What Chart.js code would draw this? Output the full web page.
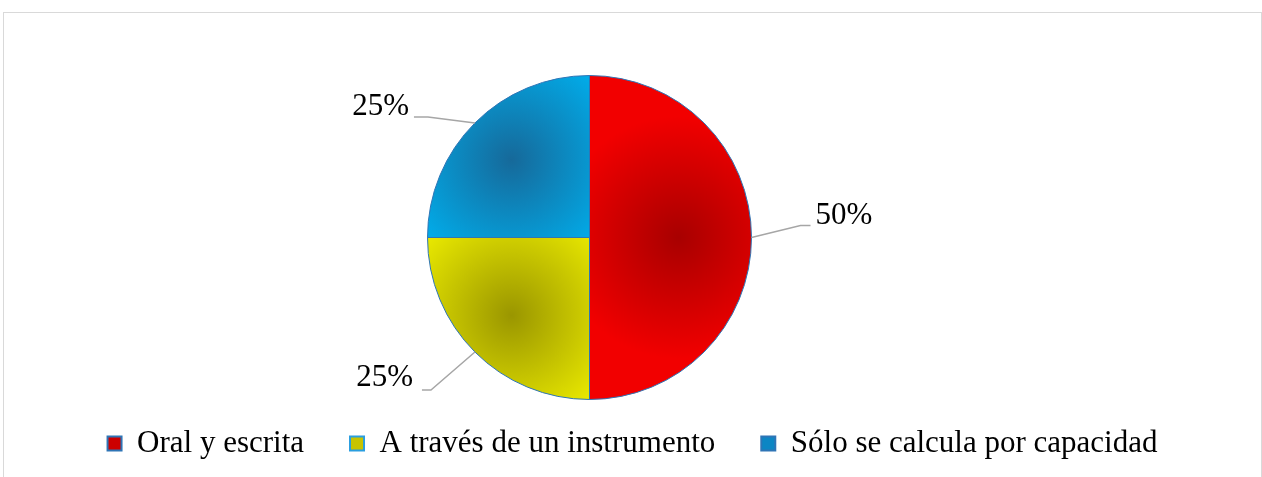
<!DOCTYPE html>
<html>
<head>
<meta charset="utf-8">
<script src="https://cdn.jsdelivr.net/npm/chart.js@4.4.1/dist/chart.umd.min.js"></script>
<style>
  html, body { margin: 0; padding: 0; background: #fff; }
  #wrap {
    position: absolute; left: 3px; top: 12px; width: 1259px; height: 470px;
    border: 1px solid #d9d9d9; border-bottom: none; box-sizing: border-box;
  }
  #chart { position: absolute; left: 0; top: 0; }
</style>
</head>
<body>
<div id="wrap"><canvas id="chart" width="1257" height="465"></canvas></div>
<script>
// data
const labels = ['Oral y escrita', 'A través de un instrumento', 'Sólo se calcula por capacidad'];
const values = [50, 25, 25];
const pctLabels = ['50%', '25%', '25%'];

const brightColors = ['#f20000', '#eeee00', '#00b0ee'];
const darkColors = ['#a80000', '#9a9600', '#16699a'];
const legendColors = ['#cc0000', '#c8c400', '#0c86c4'];

const serif = '"Liberation Serif", "Times New Roman", serif';

// radial shading per slice, darker towards the middle of each slice
const shadePlugin = {
  id: 'shade',
  beforeDatasetsDraw(chart) {
    const ctx = chart.ctx;
    const meta = chart.getDatasetMeta(0);
    meta.data.forEach((arc, i) => {
      const mid = (arc.startAngle + arc.endAngle) / 2;
      const d = arc.outerRadius * (i === 0 ? 0.55 : 0.68);
      const cx = arc.x + Math.cos(mid) * d;
      const cy = arc.y + Math.sin(mid) * d;
      const g = ctx.createRadialGradient(cx, cy, 0, cx, cy, arc.outerRadius * 0.75);
      g.addColorStop(0, darkColors[i]);
      g.addColorStop(1, brightColors[i]);
      arc.options.backgroundColor = g;
    });
  }
};

// percent labels with elbow leader lines
const leaderOffsets = [
  { ex: 49, ey: -12, hx: 10, dir: 1, gap: 5, dy: -10 },
  { ex: -44, ey: 38, hx: -9, dir: -1, gap: 9, dy: -12 },
  { ex: -47, ey: -6, hx: -14, dir: -1, gap: 5, dy: -10 }
];
const labelPlugin = {
  id: 'pctLabels',
  afterDatasetsDraw(chart) {
    const ctx = chart.ctx;
    const meta = chart.getDatasetMeta(0);
    ctx.save();
    meta.data.forEach((arc, i) => {
      const mid = (arc.startAngle + arc.endAngle) / 2;
      const px = arc.x + Math.cos(mid) * arc.outerRadius;
      const py = arc.y + Math.sin(mid) * arc.outerRadius;
      const o = leaderOffsets[i];
      const ex = px + o.ex, ey = py + o.ey;
      ctx.strokeStyle = '#a6a6a6';
      ctx.lineWidth = 1.5;
      ctx.beginPath();
      ctx.moveTo(px, py);
      ctx.lineTo(ex, ey);
      ctx.lineTo(ex + o.hx, ey);
      ctx.stroke();
      ctx.fillStyle = '#000';
      ctx.font = '31px ' + serif;
      ctx.textBaseline = 'middle';
      ctx.textAlign = o.dir > 0 ? 'left' : 'right';
      ctx.fillText(pctLabels[i], ex + o.hx + o.dir * o.gap, ey + o.dy);
    });
    ctx.restore();
  }
};

// move legend to where the reference has it
const legendShift = {
  id: 'legendShift',
  afterLayout(chart) {
    const lg = chart.legend;
    lg.left += 43;
    lg.right += 43;
    lg.top -= 9;
    lg.bottom -= 9;
  }
};

new Chart(document.getElementById('chart'), {
  type: 'pie',
  data: {
    labels: labels,
    datasets: [{
      data: values,
      backgroundColor: brightColors,
      borderColor: '#2e75b6',
      borderWidth: 1,
      radius: 162
    }]
  },
  plugins: [shadePlugin, labelPlugin, legendShift],
  options: {
    responsive: false,
    animation: false,
    events: [],
    layout: { padding: { left: 0, right: 86, top: 71, bottom: 0 } },
    plugins: {
      tooltip: { enabled: false },
      legend: {
        position: 'bottom',
        labels: {
          color: '#000',
          font: { family: serif, size: 31 },
          boxWidth: 14,
          boxHeight: 14,
          padding: 46,
          generateLabels(chart) {
            return labels.map((l, i) => ({
              text: l,
              fillStyle: legendColors[i],
              strokeStyle: i === 1 ? '#2a9ee0' : '#2e75b6',
              lineWidth: 2,
              hidden: false,
              index: i,
              fontColor: '#000'
            }));
          }
        }
      }
    }
  }
});
</script>
</body>
</html>
